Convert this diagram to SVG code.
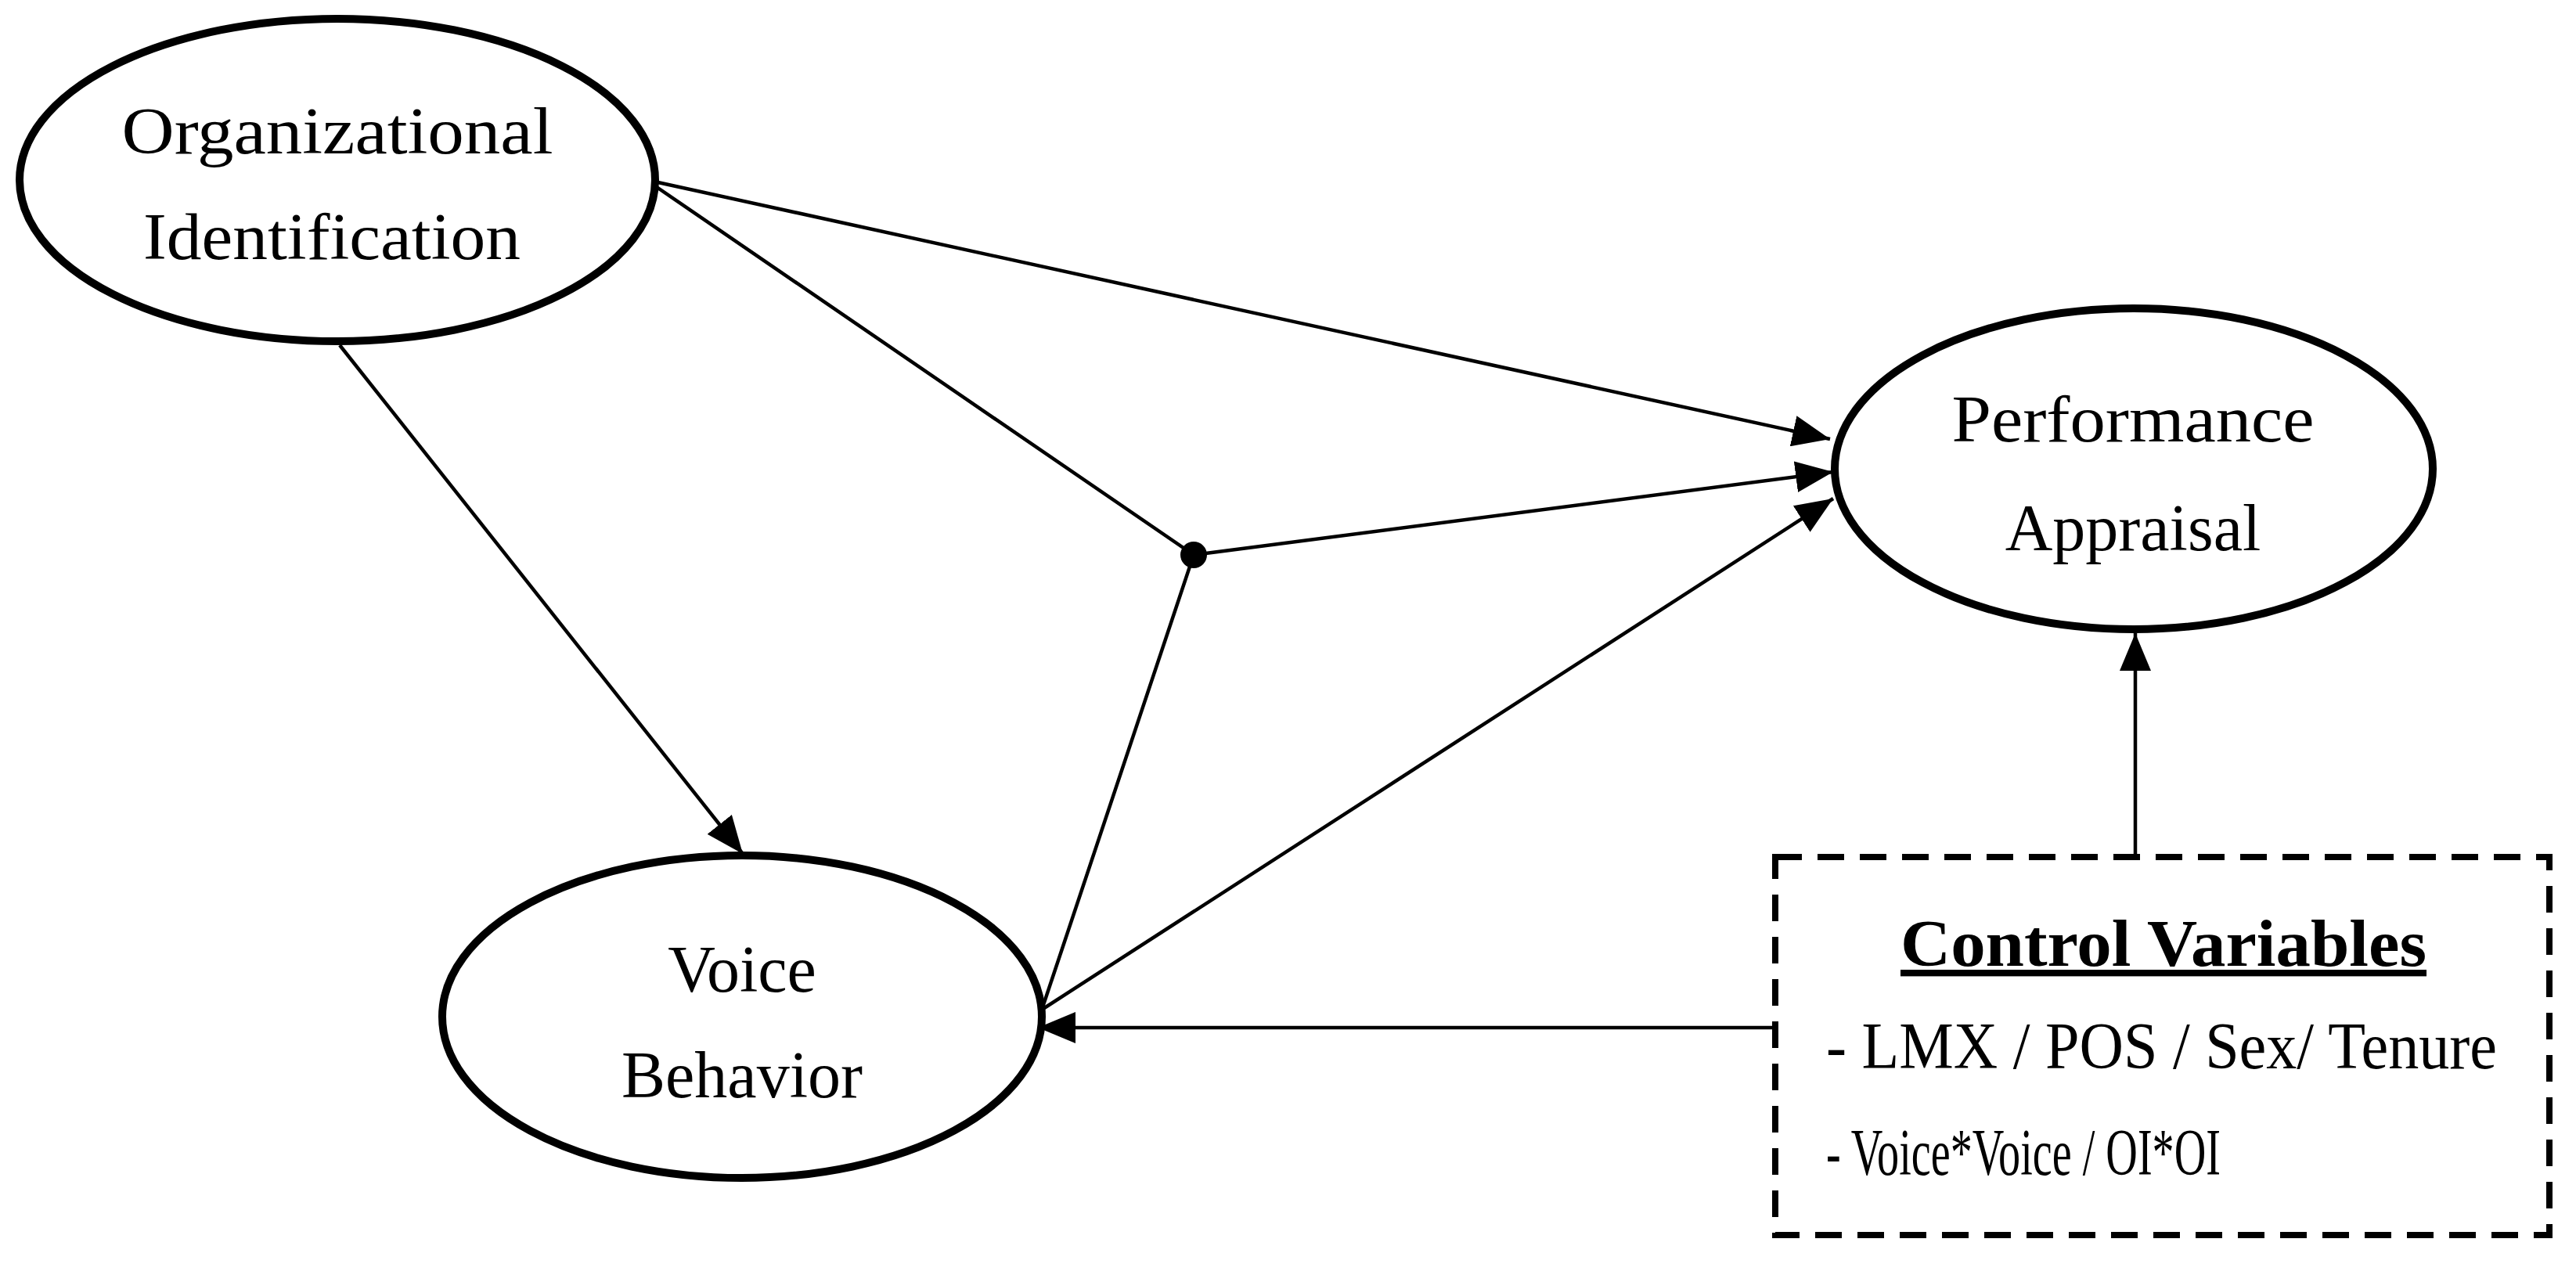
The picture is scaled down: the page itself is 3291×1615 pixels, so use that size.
<svg xmlns="http://www.w3.org/2000/svg" width="3291" height="1615" viewBox="0 0 3291 1615">
<style>
.n{fill:#fff;stroke:#000;stroke-width:10}
.t{font-family:"Liberation Serif",serif;font-size:84px;fill:#000;text-anchor:middle}
.c{stroke:#000;stroke-width:4.5;fill:none}
</style>
<defs>
<marker id="a" viewBox="0 0 48 40" refX="48" refY="20" markerWidth="48" markerHeight="40" markerUnits="userSpaceOnUse" orient="auto">
<path d="M0,0 L48,20 L0,40 Z" fill="#000"/>
</marker>
</defs>
<rect width="3291" height="1615" fill="#fff"/>
<g id="connectors">
<line class="c" x1="434" y1="441" x2="949" y2="1091" marker-end="url(#a)"/>
<line class="c" x1="836" y1="232" x2="2338" y2="561" marker-end="url(#a)"/>
<line class="c" x1="836" y1="237" x2="1525" y2="709"/>
<line class="c" x1="1525" y1="709" x2="2342" y2="603" marker-end="url(#a)"/>
<line class="c" x1="1525" y1="709" x2="1331" y2="1290"/>
<line class="c" x1="1331" y1="1290" x2="2342" y2="637" marker-end="url(#a)"/>
<line class="c" x1="2728" y1="1095" x2="2728" y2="809" marker-end="url(#a)"/>
<line class="c" x1="2268" y1="1313" x2="1326" y2="1313" marker-end="url(#a)"/>
<circle cx="1525" cy="709" r="17" fill="#000"/>
</g>
<g id="oi">
<ellipse class="n" cx="431" cy="230" rx="406" ry="206"/>
<text class="t" x="431" y="196" textLength="551" lengthAdjust="spacingAndGlyphs">Organizational</text>
<text class="t" x="424" y="331" textLength="482" lengthAdjust="spacingAndGlyphs">Identification</text>
</g>
<g id="vb">
<ellipse class="n" cx="948" cy="1299" rx="383" ry="206"/>
<text class="t" x="948" y="1267">Voice</text>
<text class="t" x="948" y="1402">Behavior</text>
</g>
<g id="pa">
<ellipse class="n" cx="2726" cy="599" rx="382" ry="205"/>
<text class="t" x="2725" y="564" textLength="463" lengthAdjust="spacingAndGlyphs">Performance</text>
<text class="t" x="2725" y="703">Appraisal</text>
</g>
<g id="cv">
<rect x="2268" y="1095" width="989" height="483" fill="none" stroke="#000" stroke-width="8" stroke-dasharray="34,20"/>
<text class="t" x="2764" y="1234" font-weight="bold" text-decoration="underline" textLength="672" lengthAdjust="spacingAndGlyphs">Control Variables</text>
<text class="t" x="2333" y="1365" text-anchor="start" style="text-anchor:start" textLength="857" lengthAdjust="spacingAndGlyphs">- LMX / POS / Sex/ Tenure</text>
<text class="t" x="2333" y="1501" style="text-anchor:start" textLength="504" lengthAdjust="spacingAndGlyphs">- Voice*Voice / OI*OI</text>
</g>
</svg>
